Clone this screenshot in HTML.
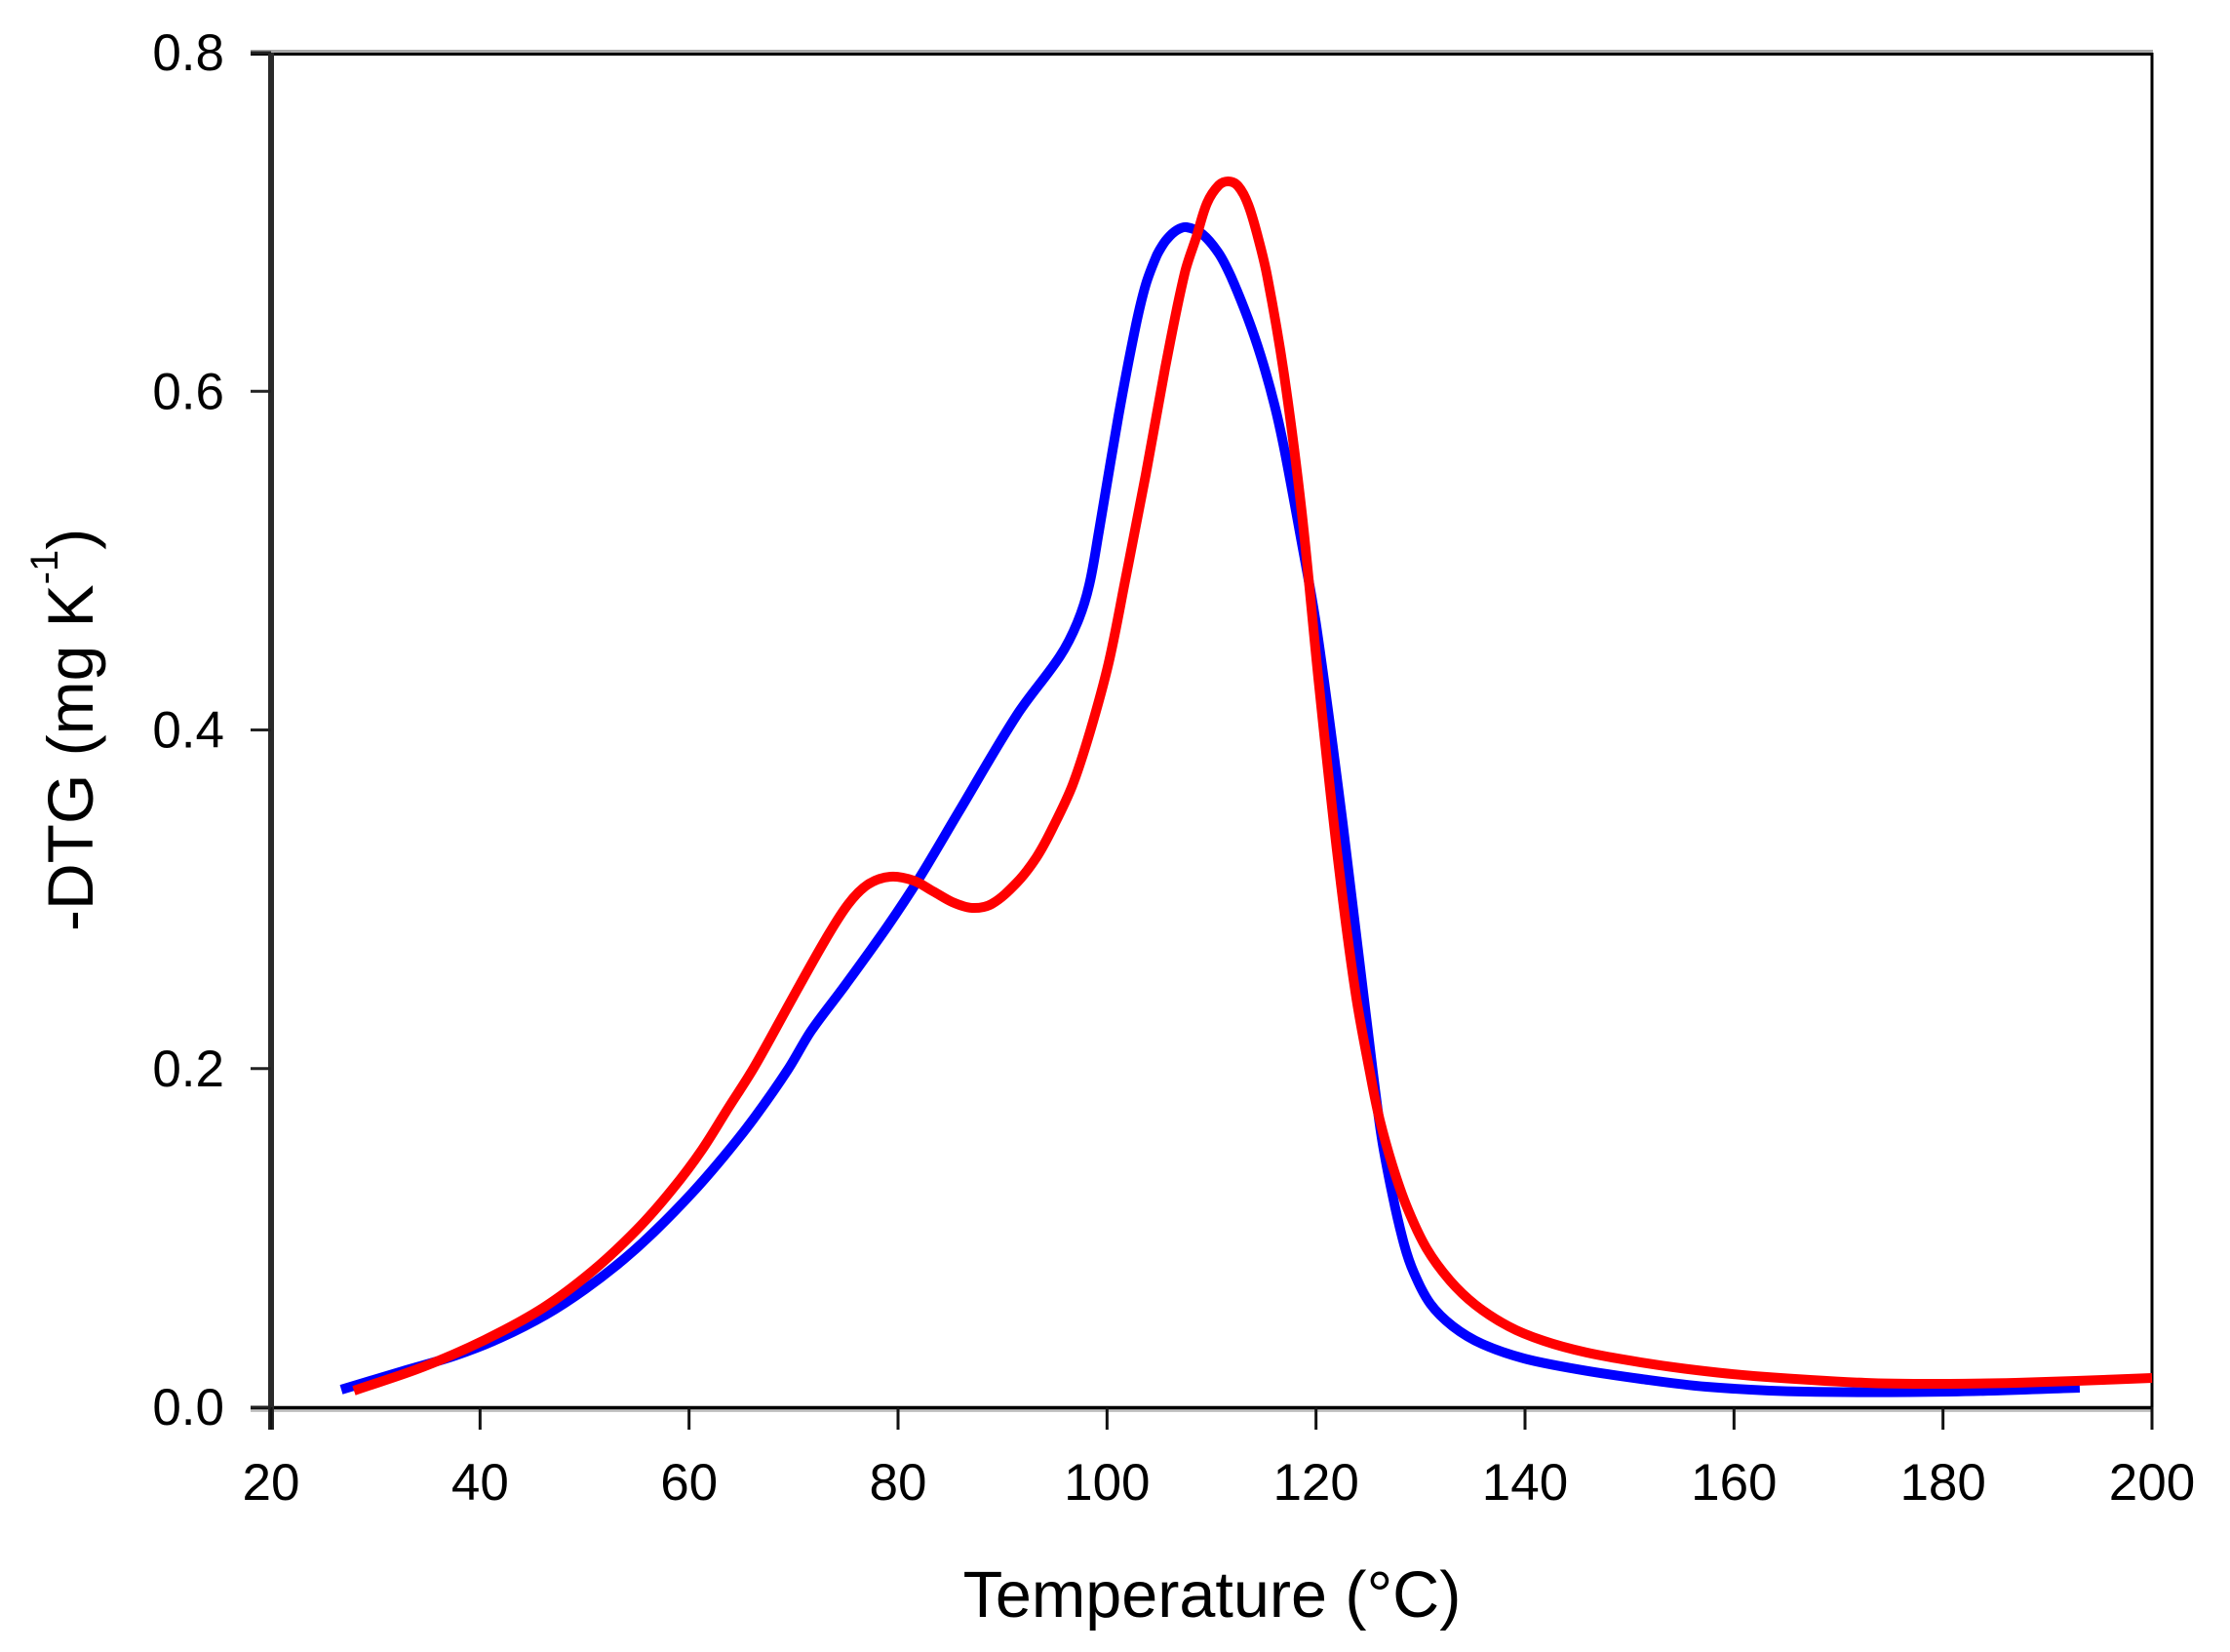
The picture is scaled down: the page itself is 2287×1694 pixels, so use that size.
<!DOCTYPE html>
<html lang="en">
<head>
<meta charset="utf-8">
<title>DTG curves</title>
<style>
html,body{margin:0;padding:0;background:#fff;}
svg{display:block;}
text{font-family:"Liberation Sans",Arial,sans-serif;fill:#000;}
</style>
</head>
<body>
<svg id="chart" xmlns="http://www.w3.org/2000/svg" width="2287" height="1694" viewBox="0 0 2287 1694">
  <rect x="0" y="0" width="2287" height="1694" fill="#ffffff"/>
  <g id="axes"></g>
  <g id="series"></g>
  <text x="1243" y="1658" font-size="66.5" text-anchor="middle">Temperature (°C)</text>
  <text transform="translate(95,955) rotate(-90)" font-size="66">-DTG (mg K<tspan font-size="40" dy="-36">-1</tspan><tspan dy="36">)</tspan></text>
</svg>
<script>
const blueTemp = [26.72,32.6,37.64,41.93,46.31,50.05,53.78,56.86,60.31,63.39,66.19,69.45,71.69,74.96,78.97,82.05,85.78,91.38,95.49,97.17,98.29,99.22,101.09,102.77,103.7,104.63,105.1,105.75,106.68,107.62,109.11,110.7,111.91,113.5,114.71,116.02,116.95,118.35,120.03,122.55,124.88,126.19,127.31,128.43,129.36,130.95,133.09,135.89,139.9,144.94,151.1,157.35,166.69,180.68,193.09];
const blueDtg = [.0104,.0213,.0305,.0409,.0547,.0697,.0875,.1048,.1267,.1486,.1705,.1993,.2223,.2494,.2839,.3127,.3513,.4089,.4435,.4636,.4855,.5172,.5852,.6393,.6629,.6785,.6842,.6900,.6952,.6969,.6929,.6814,.6670,.6428,.6209,.5921,.5662,.5201,.4613,.3450,.2263,.1630,.1256,.0962,.0795,.0610,.0478,.0374,.0288,.0225,.0167,.0121,.0092,.0092,.0115];
const redTemp = [27.93,34.46,40.43,46.03,50.7,54.99,58.44,61.24,63.76,66.19,69.92,73.09,75.24,77.11,79.25,81.49,83.36,85.22,87.09,88.96,91.38,93.25,94.84,96.7,98.38,100.15,101.65,103.7,105.57,107.43,108.55,109.58,110.7,111.63,112.56,113.5,114.43,115.36,116.95,118.63,120.31,122.08,123.76,125.16,126.09,127.31,128.71,130.57,132.81,135.24,138.41,141.77,145.88,151.1,156.42,162.02,172.56,180.68,186.93,193.09,200];
const redDtg = [.0098,.0236,.0397,.0587,.0801,.1048,.1290,.1521,.1768,.2004,.2419,.2765,.2972,.3087,.3133,.3110,.3047,.2983,.2949,.2972,.3099,.3248,.3427,.3675,.3991,.4394,.4855,.5506,.6140,.6698,.6912,.7113,.7217,.7240,.7211,.7103,.6912,.6670,.6094,.5287,.4251,.3243,.2454,.1976,.1699,.1428,.1181,.0939,.0749,.0605,.0478,.0392,.0323,.0265,.0219,.0184,.0144,.0138,.0144,.0156,.0173];
const xTicks = [20,40,60,80,100,120,140,160,180,200];
const yTicks = [0,0.2,0.4,0.6,0.8];
const xTickLabels = ['20','40','60','80','100','120','140','160','180','200'];
const yTickLabels = ['0.0','0.2','0.4','0.6','0.8'];

const xScale = t => 278 + (t - 20) * (2207 - 278) / 180;
const yScale = v => 1443 - v * (1443 - 54) / 0.8;
const NS = 'http://www.w3.org/2000/svg';
const axes = document.getElementById('axes');
const series = document.getElementById('series');

function smoothPath(xs, ys) {
  const p = xs.map((t, i) => [xScale(t), yScale(ys[i])]);
  const dirs = p.map((q, i) => {
    const a = p[Math.max(i - 1, 0)], c = p[Math.min(i + 1, p.length - 1)];
    const dx = c[0] - a[0], dy = c[1] - a[1], n = Math.hypot(dx, dy) || 1;
    return [dx / n, dy / n];
  });
  let d = 'M' + p[0][0].toFixed(1) + ' ' + p[0][1].toFixed(1);
  for (let i = 0; i < p.length - 1; i++) {
    const b = p[i], c = p[i + 1];
    const h = Math.hypot(c[0] - b[0], c[1] - b[1]) / 3;
    d += ' C' + (b[0] + dirs[i][0] * h).toFixed(1) + ' ' + (b[1] + dirs[i][1] * h).toFixed(1) +
         ' ' + (c[0] - dirs[i + 1][0] * h).toFixed(1) + ' ' + (c[1] - dirs[i + 1][1] * h).toFixed(1) +
         ' ' + c[0].toFixed(1) + ' ' + c[1].toFixed(1);
  }
  return d;
}

function rule(parent, x1, y1, x2, y2, width, color) {
  const l = document.createElementNS(NS, 'line');
  l.setAttribute('x1', x1);
  l.setAttribute('y1', y1);
  l.setAttribute('x2', x2);
  l.setAttribute('y2', y2);
  l.setAttribute('stroke', color);
  l.setAttribute('stroke-width', width);
  parent.appendChild(l);
  return l;
}

const frameTopShade = rule(axes, 257, 52.5, 2208, 52.5, 3, '#a8a8a8');


const frameTop = rule(axes, 257, 55.5, 2208, 55.5, 3, '#000');


const frameRight = rule(axes, 2207, 54, 2207, 1466, 3, '#000');


const xAxisShade = rule(axes, 257, 1446.5, 2208, 1446.5, 3, '#c4c4c4');


const xAxisLine = rule(axes, 257, 1443.5, 2208, 1443.5, 3.5, '#000');


const yAxisLine = rule(axes, 278, 54, 278, 1466, 6, '#2a2a2a');



xTicks.forEach((t, i) => {
  const tick = rule(axes, xScale(t), 1443, xScale(t), 1466, 3, '#111');
  
  
  const label = document.createElementNS(NS, 'text');
  
  
  label.setAttribute('x', xScale(t));
  label.setAttribute('y', 1538);
  label.setAttribute('font-size', 53);
  label.setAttribute('text-anchor', 'middle');
  label.textContent = xTickLabels[i];
  axes.appendChild(label);
});

yTicks.forEach((v, i) => {
  const tick = rule(axes, 257, yScale(v), 278, yScale(v), 3, '#222');
  
  
  const label = document.createElementNS(NS, 'text');
  
  
  label.setAttribute('x', 230);
  label.setAttribute('y', yScale(v) + 18);
  label.setAttribute('font-size', 53);
  label.setAttribute('text-anchor', 'end');
  label.textContent = yTickLabels[i];
  axes.appendChild(label);
});

const bluePath = document.createElementNS(NS, 'path');


bluePath.setAttribute('d', smoothPath(blueTemp, blueDtg));
bluePath.setAttribute('fill', 'none');
bluePath.setAttribute('stroke', '#0000ff');
bluePath.setAttribute('stroke-width', 10);
bluePath.setAttribute('stroke-linejoin', 'round');
series.appendChild(bluePath);

const redPath = document.createElementNS(NS, 'path');


redPath.setAttribute('d', smoothPath(redTemp, redDtg));
redPath.setAttribute('fill', 'none');
redPath.setAttribute('stroke', '#ff0000');
redPath.setAttribute('stroke-width', 10);
redPath.setAttribute('stroke-linejoin', 'round');
series.appendChild(redPath);
</script>
</body>
</html>
